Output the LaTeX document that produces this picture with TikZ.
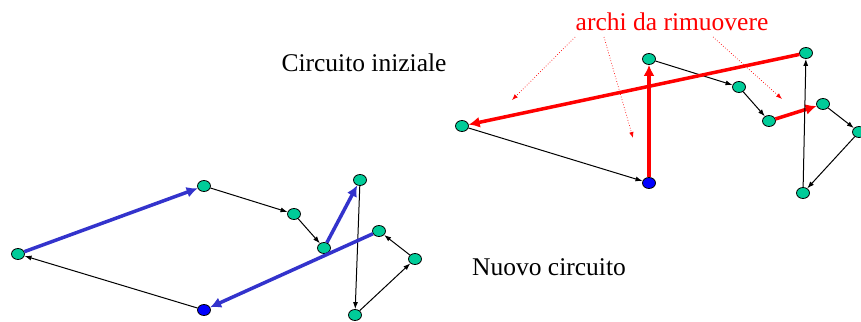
\documentclass[tikz,border=0pt]{standalone}
\usepackage{fontspec}
\setmainfont{Liberation Serif}
\usepackage{xcolor}
\usetikzlibrary{arrows.meta}
\usetikzlibrary{shapes.geometric}
\definecolor{mygreen}{RGB}{0,204,153}
\definecolor{myblue}{RGB}{51,51,204}
\definecolor{myred}{RGB}{255,0,0}

\tikzset{
  vtx/.style={ellipse, draw, line width=0.8pt, fill=mygreen, inner sep=0pt,
    minimum width=13pt, minimum height=11pt},
  startvtx/.style={vtx, fill=blue},
  arc/.style={-{Latex[length=7pt,width=5pt]}, line width=1pt},
  oldarc/.style={-{Latex[length=11pt,width=11pt]}, line width=3.5pt, color=myred},
  newarc/.style={-{Latex[length=11pt,width=11pt]}, line width=3.5pt, color=myblue},
  hint/.style={-{Latex[length=6pt,width=4.5pt]}, dotted, line width=0.7pt, color=myred},
  lab/.style={font=\fontsize{25.5}{30}\selectfont}
}

\begin{document}
\begin{tikzpicture}[x=1pt, y=-1pt]
\useasboundingbox (0,0) rectangle (861,321);

%labels
\node[lab] (tini) at (364,63) {Circuito iniziale};
\node[lab] (tnuo) at (549,267) {Nuovo circuito};
\node[lab, color=myred] (trim) at (672,22) {archi da rimuovere};

%initial circuit
\node[vtx] (A) at (462,126) {};
\node[startvtx] (B) at (649,183) {};
\node[vtx] (C) at (649,59) {};
\node[vtx] (D) at (739,87) {};
\node[vtx] (E) at (769,121) {};
\node[vtx] (F) at (823,104) {};
\node[vtx] (G) at (859,132) {};
\node[vtx] (H) at (803,193) {};
\node[vtx] (I) at (806,53) {};

\draw[arc] (A) -- (B);
\draw[oldarc] (B) -- (C);
\draw[arc] (C) -- (D);
\draw[arc] (D) -- (E);
\draw[oldarc] (E) -- (F);
\draw[arc] (F) -- (G);
\draw[arc] (G) -- (H);
\draw[arc] (H) -- (I);
\draw[oldarc] (I) -- (A);

%pointers to removed arcs
\coordinate (h1s) at (575,37);
\coordinate (h1e) at (512,100);
\coordinate (h2s) at (604,37);
\coordinate (h2e) at (633,138);
\coordinate (h3s) at (713,37);
\coordinate (h3e) at (782,99);
\draw[hint] (h1s) -- (h1e);
\draw[hint] (h2s) -- (h2e);
\draw[hint] (h3s) -- (h3e);

%new circuit
\node[vtx] (a) at (18,254) {};
\node[startvtx] (b) at (204,310) {};
\node[vtx] (c) at (204,186) {};
\node[vtx] (d) at (294,214) {};
\node[vtx] (e) at (324,248) {};
\node[vtx] (f) at (360,180) {};
\node[vtx] (g) at (379,231) {};
\node[vtx] (h) at (415,259) {};
\node[vtx] (i) at (355,315) {};

\draw[arc] (b) -- (a);
\draw[newarc] (a) -- (c);
\draw[arc] (c) -- (d);
\draw[arc] (d) -- (e);
\draw[newarc] (e) -- (f);
\draw[arc] (f) -- (i);
\draw[arc] (i) -- (h);
\draw[arc] (h) -- (g);
\draw[newarc] (g) -- (b);

\end{tikzpicture}
\end{document}
